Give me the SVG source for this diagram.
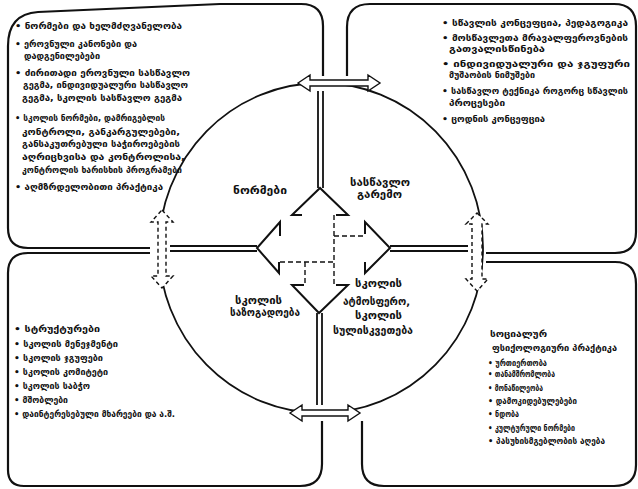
<svg xmlns="http://www.w3.org/2000/svg" width="638" height="489" viewBox="0 0 638 489">
<style>
.box{fill:none;stroke:#111;stroke-width:2.2}
.ln{fill:none;stroke:#111;stroke-width:1.8}
.dl{fill:none;stroke:#111;stroke-width:1.4;stroke-dasharray:5 3}
.ah{fill:none;stroke:#111;stroke-width:2}
.harr{fill:#fff;stroke:#111;stroke-width:1.4}
.varr{fill:#fff;stroke:#111;stroke-width:1.4;stroke-dasharray:4 3}
text{font-family:"DejaVu Sans","Noto Sans",sans-serif;font-weight:bold;font-size:9.5px;fill:#111}
.lab{font-size:10.5px}
</style>
<rect width="638" height="489" fill="#fff"/>
<g id="box-tl">
<path class="box" d="M150,248 L28,248 Q8,248 8,228 L8,46 Q8,14 38,12 L220,4 L301,4 Q323,4 323,26 L323,76"/>
<text x="15" y="29" textLength="167" lengthAdjust="spacingAndGlyphs">• ნორმები და ხელმძღვანელობა</text>
<text x="15" y="47" textLength="122" lengthAdjust="spacingAndGlyphs">• ეროვნული კანონები და</text>
<text x="24" y="59" textLength="76" lengthAdjust="spacingAndGlyphs">დადგენილებები</text>
<text x="15" y="76" textLength="175" lengthAdjust="spacingAndGlyphs">• ძირითადი ეროვნული სასწავლო</text>
<text x="23" y="88" textLength="165" lengthAdjust="spacingAndGlyphs">გეგმა, ინდივიდუალური სასწავლო</text>
<text x="22" y="101" textLength="160" lengthAdjust="spacingAndGlyphs">გეგმა, სკოლის სასწავლო გეგმა</text>
<text x="15" y="121" textLength="150" lengthAdjust="spacingAndGlyphs">• სკოლის ნორმები, დამრიგებლის</text>
<text x="22" y="135" textLength="158" lengthAdjust="spacingAndGlyphs">კონტროლი, განკარგულებები,</text>
<text x="22" y="147" textLength="158" lengthAdjust="spacingAndGlyphs">განსაკუთრებული საჭიროებების</text>
<text x="22" y="160" textLength="163" lengthAdjust="spacingAndGlyphs">აღრიცხვისა და კონტროლისა,</text>
<text x="22" y="173" textLength="160" lengthAdjust="spacingAndGlyphs">კონტროლის ხარისხის პროგრამები</text>
<text x="15" y="190" textLength="148" lengthAdjust="spacingAndGlyphs">• აღმზრდელობითი პრაქტიკა</text>
</g>
<g id="box-tr">
<path class="box" d="M347,76 L347,27 Q347,4 370,4 L614,4 Q636,4 636,26 L636,232 Q636,253 615,253 L486,253"/>
<text x="442" y="26" textLength="186" lengthAdjust="spacingAndGlyphs">• სწავლის კონცეფცია, პედაგოგიკა</text>
<text x="442" y="41" textLength="186" lengthAdjust="spacingAndGlyphs">• მოსწავლეთა მრავალფეროვნების</text>
<text x="449" y="52" textLength="96" lengthAdjust="spacingAndGlyphs">გათვალისწინება</text>
<text x="442" y="67" textLength="188" lengthAdjust="spacingAndGlyphs">• ინდივიდუალური და ჯგუფური</text>
<text x="449" y="78" textLength="86" lengthAdjust="spacingAndGlyphs">მუშაობის ნიმუშები</text>
<text x="442" y="94" textLength="186" lengthAdjust="spacingAndGlyphs">• სასწავლო ტექნიკა როგორც სწავლის</text>
<text x="449" y="106" textLength="56" lengthAdjust="spacingAndGlyphs">პროცესები</text>
<text x="442" y="122" textLength="103" lengthAdjust="spacingAndGlyphs">• ცოდნის კონცეფცია</text>
</g>
<g id="box-bl">
<path class="box" d="M150,253 L28,253 Q8,253 8,273 L8,470 Q8,486 24,486 L300,486 Q322,486 322,464 L322,421"/>
<text x="14" y="332" textLength="86" lengthAdjust="spacingAndGlyphs">• სტრუქტურები</text>
<text x="14" y="347" textLength="104" lengthAdjust="spacingAndGlyphs">• სკოლის მენეჯმენტი</text>
<text x="14" y="361" textLength="89" lengthAdjust="spacingAndGlyphs">• სკოლის ჯგუფები</text>
<text x="14" y="375" textLength="94" lengthAdjust="spacingAndGlyphs">• სკოლის კომიტეტი</text>
<text x="14" y="389" textLength="76" lengthAdjust="spacingAndGlyphs">• სკოლის საბჭო</text>
<text x="14" y="403" textLength="54" lengthAdjust="spacingAndGlyphs">• მშობლები</text>
<text x="14" y="417" textLength="161" lengthAdjust="spacingAndGlyphs">• დაინტერესებული მხარეები და ა.შ.</text>
</g>
<g id="box-br">
<path class="box" d="M486,262 L615,262 Q636,262 636,284 L636,465 Q636,486 614,486 L384,486 Q362,486 362,464 L362,421"/>
<text x="490" y="337" textLength="57" lengthAdjust="spacingAndGlyphs">სოციალურ</text>
<text x="492" y="351" textLength="125" lengthAdjust="spacingAndGlyphs">ფსიქოლოგიური  პრაქტიკა</text>
<text x="488" y="366" textLength="59" lengthAdjust="spacingAndGlyphs">• ურთიერთობა</text>
<text x="488" y="377" textLength="67" lengthAdjust="spacingAndGlyphs">• თანამშრომლობა</text>
<text x="488" y="391" textLength="55" lengthAdjust="spacingAndGlyphs">• მონაწილეობა</text>
<text x="488" y="404" textLength="89" lengthAdjust="spacingAndGlyphs">• დამოკიდებულებები</text>
<text x="488" y="417" textLength="31" lengthAdjust="spacingAndGlyphs">• ნდობა</text>
<text x="488" y="431" textLength="87" lengthAdjust="spacingAndGlyphs">• კულტურული ნორმები</text>
<text x="488" y="444" textLength="117" lengthAdjust="spacingAndGlyphs">• პასუხისმგებლობის აღება</text>
</g>
<g id="circle">
<ellipse class="ln" cx="321" cy="248" rx="162" ry="165"/>
</g>
<g id="connectors">
<path class="ln" d="M318,91 L318,188 M323,91 L323,188"/>
<path class="ln" d="M317,313 L317,405 M322,313 L322,405"/>
<path class="ln" d="M170,246 L257,246 M170,251 L257,251"/>
<path class="ln" d="M390,246 L468,246 M390,251 L468,251"/>
<path class="ah" d="M302,215 L292,215 L320,188 L348,215 L336,215"/>
<path class="ah" d="M365,234 L365,222 L390,248 L365,273 L365,262"/>
<path class="ah" d="M304,285 L292,285 L319,313 L348,285 L336,285"/>
<path class="ah" d="M280,236 L280,222 L257,248 L279,273 L279,262"/>
<path class="dl" d="M334,215 L334,285 M334,236 L365,236 M280,262 L334,262 M305,262 L305,285"/>
<path class="harr" d="M298,83 L310,75 L310,80 L368,80 L368,75 L380,83 L368,91 L368,86 L310,86 L310,91 Z"/>
<path class="harr" d="M290,413 L302,405 L302,410 L348,410 L348,405 L360,413 L348,421 L348,416 L302,416 L302,421 Z"/>
<path class="varr" d="M162,210 L173,222 L166,222 L166,276 L173,276 L162,288 L151,276 L158,276 L158,222 L151,222 Z"/>
<path class="varr" d="M477,213 L488,224 L482,224 L482,279 L488,279 L477,291 L466,279 L472,279 L472,224 L466,224 Z"/>
</g>
<g id="labels">
<text class="lab" x="233" y="194" textLength="54" lengthAdjust="spacingAndGlyphs">ნორმები</text>
<text class="lab" x="350" y="186" textLength="60" lengthAdjust="spacingAndGlyphs">სასწავლო</text>
<text class="lab" x="357" y="198" textLength="45" lengthAdjust="spacingAndGlyphs">გარემო</text>
<text class="lab" x="235" y="304" textLength="47" lengthAdjust="spacingAndGlyphs">სკოლის</text>
<text class="lab" x="230" y="316" textLength="70" lengthAdjust="spacingAndGlyphs">საზოგადოება</text>
<text class="lab" x="355" y="287" textLength="47" lengthAdjust="spacingAndGlyphs">სკოლის</text>
<text class="lab" x="343" y="305" textLength="67" lengthAdjust="spacingAndGlyphs">ატმოსფერო,</text>
<text class="lab" x="355" y="319" textLength="47" lengthAdjust="spacingAndGlyphs">სკოლის</text>
<text class="lab" x="333" y="334" textLength="80" lengthAdjust="spacingAndGlyphs">სულისკვეთება</text>
</g>
</svg>
